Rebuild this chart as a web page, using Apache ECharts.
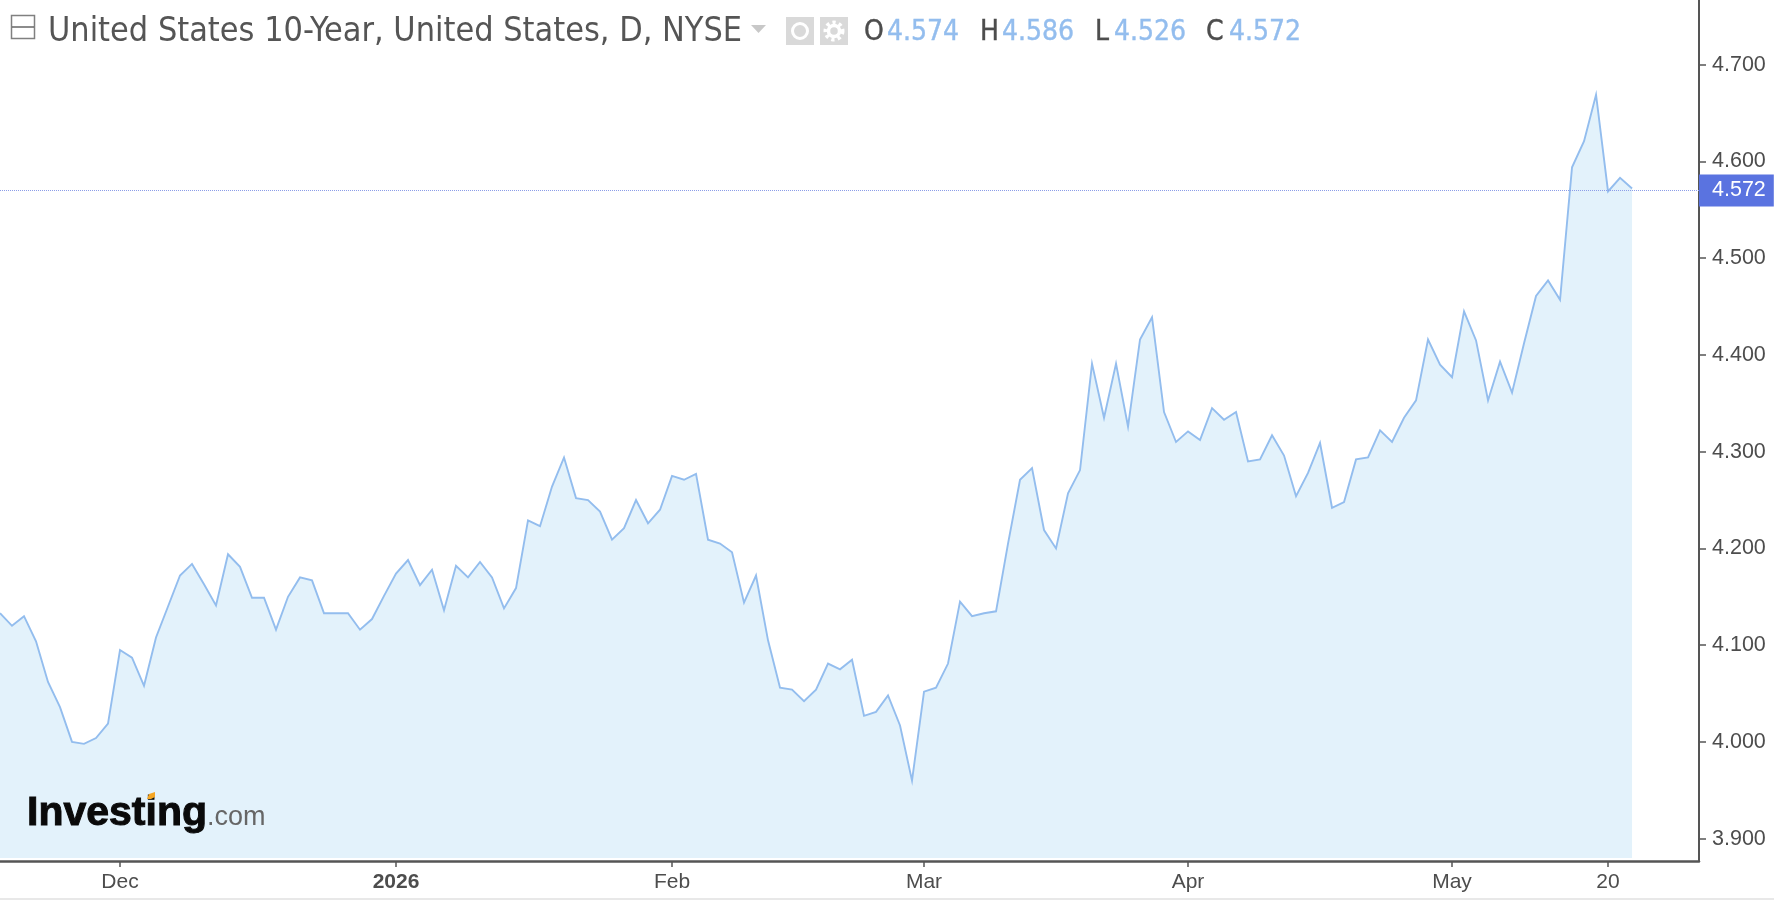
<!DOCTYPE html>
<html><head><meta charset="utf-8">
<style>html,body{margin:0;padding:0;background:#fff}#c{width:1774px;height:900px}</style>
<script src="https://cdn.jsdelivr.net/npm/echarts@6/dist/echarts.min.js"></script>
</head><body><div id="c"></div>
<script>
const closes = [4.133,4.120,4.130,4.104,4.062,4.036,4.000,3.998,4.004,4.019,
4.095,4.087,4.058,4.108,4.140,4.172,4.184,4.163,4.141,4.194,
4.181,4.149,4.149,4.116,4.150,4.170,4.167,4.133,4.133,4.133,
4.116,4.127,4.151,4.174,4.188,4.162,4.178,4.136,4.182,4.170,
4.186,4.170,4.138,4.159,4.229,4.223,4.264,4.294,4.252,4.250,
4.238,4.209,4.221,4.250,4.226,4.240,4.275,4.271,4.277,4.209,
4.205,4.196,4.144,4.172,4.105,4.056,4.054,4.042,4.054,4.081,
4.075,4.085,4.027,4.031,4.048,4.017,3.960,4.052,4.056,4.081,
4.145,4.130,4.133,4.135,4.205,4.271,4.283,4.219,4.200,4.257,
4.281,4.391,4.335,4.391,4.326,4.416,4.439,4.341,4.310,4.321,
4.312,4.345,4.333,4.341,4.290,4.292,4.317,4.296,4.254,4.278,
4.309,4.242,4.248,4.292,4.294,4.322,4.310,4.335,4.353,4.416,
4.390,4.377,4.445,4.415,4.353,4.393,4.361,4.412,4.461,4.477,
4.457,4.594,4.621,4.669,4.569,4.583,4.572];
const xTickIndex = [10,33,56,77,99,121,134];
const xTickLabels = ['Dec','2026','Feb','Mar','Apr','May','20'];
const yTicks = [3.9,4.0,4.1,4.2,4.3,4.4,4.5,4.6,4.7];
const lastClose = 4.572;
const titleText = 'United States 10-Year, United States, D, NYSE';
const ohlcKeys = ['O','H','L','C'];
const ohlcVals = ['4.574','4.586','4.526','4.572'];

const LINE='#93bdee', FILL='#e3f2fb', TXT='#4d4d4d', BADGE='#5a73e0', AX='#555555';
const HFONT='"DejaVu Sans Condensed","DejaVu Sans",sans-serif';
const LFONT='"Liberation Sans",Arial,sans-serif';

const keyX=[864,980,1095,1206], valX=[887,1002,1114,1229];
const gfx=[
 {type:'rect',shape:{x:0,y:898,width:1774,height:2},style:{fill:'#e8e8e8'},z:100},
 {type:'rect',shape:{x:11.5,y:15.5,width:23,height:23},style:{fill:'#fff',stroke:'#808080',lineWidth:1.5},z:100},
 {type:'line',shape:{x1:12,y1:27,x2:34,y2:27},style:{stroke:'#666',lineWidth:1.5},z:100},
 {type:'text',style:{x:48,y:32,text:titleText,font:'33.9px '+HFONT,fill:'#555555',textVerticalAlign:'middle'},z:100},
 {type:'polygon',shape:{points:[[751,25],[766,25],[758.5,33]]},style:{fill:'#c8c8c8'},z:100},
 {type:'rect',shape:{x:786,y:17,width:28,height:28},style:{fill:'#d9d9d9'},z:100},
 {type:'circle',shape:{cx:800,cy:31,r:7.5},style:{fill:'none',stroke:'#fff',lineWidth:3},z:101},
 {type:'rect',shape:{x:820,y:17,width:28,height:28},style:{fill:'#d9d9d9'},z:100},
 {type:'circle',shape:{cx:834,cy:31,r:8},style:{fill:'none',stroke:'#fff',lineWidth:5,lineDash:[3,3]},z:101},
 {type:'circle',shape:{cx:834,cy:31,r:5.5},style:{fill:'none',stroke:'#fff',lineWidth:3.5},z:101},
 {type:'text',style:{x:27,y:834,text:'Investing',font:'bold 41px '+LFONT,fill:'#0a0a0a',stroke:'#0a0a0a',lineWidth:1,textVerticalAlign:'bottom'},z:100},
 {type:'text',style:{x:207,y:831,text:'.com',font:'27px '+LFONT,fill:'#666',textVerticalAlign:'bottom'},z:100},
 {type:'polygon',shape:{points:[[147,799],[149,794],[155,792],[155,797],[151,799]]},style:{fill:'#f5a623'},z:101}
];
ohlcKeys.forEach((k,i)=>{
 gfx.push({type:'text',style:{x:keyX[i],y:33,text:k,font:'28px '+HFONT,fill:TXT,stroke:TXT,lineWidth:.4,textVerticalAlign:'middle'},z:100});
 gfx.push({type:'text',style:{x:valX[i],y:33,text:ohlcVals[i],font:'28px '+HFONT,fill:LINE,stroke:LINE,lineWidth:.4,textVerticalAlign:'middle'},z:100});
});

const chart=echarts.init(document.getElementById('c'),null,{renderer:'canvas'});
chart.setOption({
 animation:false,
 backgroundColor:'#fff',
 grid:{left:0,right:75,top:0,bottom:39},
 graphic:gfx,
 xAxis:{type:'value',min:0,max:141.58,splitLine:{show:false},
  axisLine:{lineStyle:{color:AX,width:2.5}},
  axisTick:{customValues:xTickIndex,length:6,lineStyle:{color:AX,width:1.5}},
  axisLabel:{customValues:xTickIndex,margin:11,fontFamily:LFONT,fontSize:21,color:TXT,
   formatter:v=>{const s=xTickLabels[xTickIndex.indexOf(v)];return s==='2026'?'{b|'+s+'}':s;},
   rich:{b:{fontWeight:'bold',fontFamily:LFONT,fontSize:21,color:TXT}}}},
 yAxis:{type:'value',position:'right',min:3.8769,max:4.7669,splitLine:{show:false},
  axisLine:{show:true,onZero:false,lineStyle:{color:AX,width:2}},
  axisTick:{show:true,customValues:yTicks,length:7,lineStyle:{color:AX,width:1.5}},
  axisLabel:{customValues:yTicks,margin:13,fontFamily:LFONT,fontSize:21.5,color:TXT,padding:[6,0,0,0],formatter:v=>v.toFixed(3)}},
 series:[{type:'line',data:closes.map((v,i)=>[i,v]),symbol:'none',silent:true,z:3,
  lineStyle:{color:LINE,width:1.9,join:'miter',miterLimit:10},
  areaStyle:{color:FILL,opacity:1,origin:3.88},
  markLine:{silent:true,symbol:'none',animation:false,z:5,
   lineStyle:{color:'#8c9de8',type:'dotted',width:1,opacity:1},
   data:[{yAxis:lastClose}],
   label:{show:true,position:'end',distance:0,formatter:lastClose.toFixed(3),color:'#fff',fontWeight:'500',
    backgroundColor:BADGE,padding:[5,8,5,13],fontFamily:LFONT,fontSize:21.5,lineHeight:22}}}]
});
</script></body></html>
